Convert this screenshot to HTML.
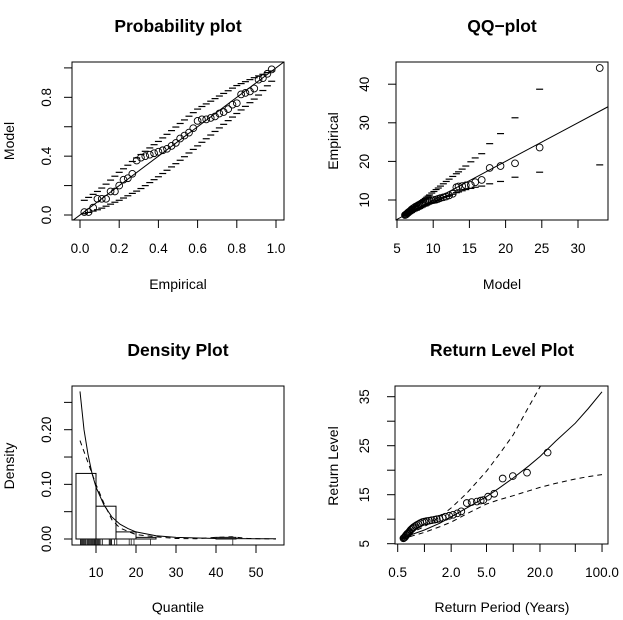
<!DOCTYPE html>
<html><head><meta charset="utf-8"><style>
body{margin:0;background:#fff}
svg{display:block;font-family:"Liberation Sans",Arial,sans-serif}
.t{font-weight:bold;font-size:17.5px;text-anchor:middle}
.tl{font-size:13.5px;text-anchor:middle}
.al{font-size:14px;text-anchor:middle}
</style></head><body>
<svg id="s" width="623" height="620" viewBox="0 0 623 620"></svg>
<script>
// ---- data ----
const ppEmp=[0.022,0.044,0.067,0.089,0.111,0.133,0.156,0.178,0.2,0.222,0.244,0.267,0.289,0.311,0.333,0.356,0.378,0.4,0.422,0.444,0.467,0.489,0.511,0.533,0.556,0.578,0.6,0.622,0.644,0.667,0.689,0.711,0.733,0.756,0.778,0.8,0.822,0.844,0.867,0.889,0.911,0.933,0.956,0.978];
const ppModel=[0.02,0.02,0.05,0.11,0.11,0.11,0.16,0.16,0.20,0.24,0.25,0.28,0.37,0.39,0.40,0.41,0.42,0.43,0.44,0.45,0.47,0.49,0.52,0.54,0.56,0.59,0.64,0.65,0.65,0.66,0.67,0.69,0.70,0.72,0.75,0.76,0.82,0.83,0.84,0.86,0.92,0.93,0.96,0.99];
const ppBandX=[0,0.1,0.2,0.3,0.4,0.5,0.6,0.7,0.8,0.9,1.0];
const ppUpper=[0.08,0.17,0.29,0.40,0.50,0.61,0.72,0.80,0.88,0.94,0.99];
const ppLower=[0.0,0.04,0.10,0.17,0.26,0.36,0.47,0.58,0.69,0.80,0.94];
const qqModel=[6.1,6.2,6.3,6.4,6.5,6.6,6.7,6.8,6.9,7.0,7.2,7.4,7.5,7.7,7.9,8.1,8.3,8.5,8.7,8.9,9.1,9.3,9.5,9.8,10.1,10.4,10.7,11.0,11.4,11.8,12.2,12.7,13.2,13.5,14.0,14.5,15.2,15.8,16.7,17.8,19.3,21.3,24.7,33.0];
const empirical=[6.1,6.2,6.3,6.5,6.7,6.8,7.0,7.1,7.3,7.5,7.8,8.0,8.2,8.4,8.6,8.8,9.0,9.2,9.4,9.5,9.6,9.7,9.8,9.9,10.0,10.1,10.3,10.5,10.7,10.9,11.2,11.6,13.3,13.5,13.6,13.8,13.9,14.6,15.2,18.3,18.8,19.5,23.6,44.2];
const qqUpper=[6.3,6.4,6.6,6.7,6.9,7.0,7.2,7.3,7.5,7.6,7.9,8.2,8.3,8.6,8.9,9.2,9.5,9.8,10.1,10.4,10.7,11.0,11.3,11.8,12.2,12.7,13.1,13.6,14.2,14.8,15.4,16.1,16.8,17.3,18.0,18.8,19.9,20.9,22.0,24.6,27.2,31.3,38.7,60];
const qqLower=[5.9,6.0,6.1,6.2,6.3,6.4,6.5,6.6,6.7,6.8,7.0,7.2,7.3,7.4,7.6,7.8,8.0,8.2,8.4,8.5,8.7,8.9,9.1,9.3,9.5,9.8,10.0,10.3,10.6,10.9,11.2,11.5,11.9,12.1,12.4,12.7,13.0,13.3,13.6,14.2,14.8,15.9,17.2,19.1];
const histBreaks=[5,10,15,20,25,30,35,40,45];
const histDensity=[0.12,0.06,0.013,0.003,0,0,0,0.003];
const densX=[6,7,8,9,10,12,14,16,18,20,25,30,40,55];
const densModel=[0.27,0.2,0.155,0.12,0.095,0.062,0.04,0.027,0.019,0.013,0.006,0.003,0.001,0.0003];
const kdeX=[6,8,10,12,14,16,20,25,30,35,40,44,48,55];
const kdeY=[0.18,0.14,0.10,0.065,0.035,0.02,0.008,0.004,0.001,0.0005,0.003,0.004,0.001,0];
const rlPeriod=[0.58,0.59,0.60,0.61,0.62,0.63,0.64,0.65,0.67,0.68,0.70,0.72,0.74,0.76,0.79,0.82,0.86,0.90,0.95,1.0,1.06,1.13,1.21,1.3,1.38,1.48,1.6,1.73,1.9,2.1,2.35,2.6,3.0,3.4,3.9,4.3,4.6,5.2,6.1,7.6,9.9,14.3,24.4,70];
const rlX=[0.55,0.7,1,1.5,2,3,5,7,10,15,20,30,50,70,100];
const rlFit=[6.0,6.8,7.8,9.2,10.5,12.3,14.6,16.4,18.4,20.9,22.8,25.9,29.6,32.6,36.0];
const rlUp=[6.1,7.2,8.5,10.5,12.3,15.3,19.8,23.3,27.2,33,37,45,55,65,80];
const rlLo=[5.9,6.5,7.3,8.5,9.4,11.1,13.1,14.0,14.8,15.8,16.5,17.3,18.2,18.7,19.1];
const rlTicks=[0.5,1,2,5,10,20,50,100];
const rlTickLabels=["0.5","","2.0","5.0","","20.0","","100.0"];

const NS="http://www.w3.org/2000/svg";
const svg=document.getElementById('s');
function mk(tag,attrs,parent){const e=document.createElementNS(NS,tag);for(const k in attrs)e.setAttribute(k,attrs[k]);(parent||svg).appendChild(e);return e;}
function interp(xs,ys,x){for(let i=0;i<xs.length-1;i++){if(x<=xs[i+1]){const t=(x-xs[i])/(xs[i+1]-xs[i]);return ys[i]+t*(ys[i+1]-ys[i]);}}return ys[ys.length-1];}
function panel(name,box){const g=mk('g',{});
 const cp=mk('clipPath',{id:'c'+name},g);mk('rect',{x:box[0],y:box[1],width:box[2]-box[0],height:box[3]-box[1]},cp);
 const pg=mk('g',{'clip-path':'url(#c'+name+')'},g);return [g,pg];}
function frame(g,box){const r=mk('rect',{x:box[0],y:box[1],width:box[2]-box[0],height:box[3]-box[1],fill:'none',stroke:'#000','stroke-width':1},g);}
function text(g,x,y,s,cls,rot,name){const t=mk('text',{x:x,y:y,class:cls},g);if(rot)t.setAttribute('transform','rotate(-90 '+x+' '+y+')');t.textContent=s;return t;}
function xaxis(g,ticks,labels,sx,yb,ly){for(let i=0;i<ticks.length;i++){const x=sx(ticks[i]);const l=mk('line',{x1:x,x2:x,y1:yb,y2:yb+8,stroke:'#000'},g);if(labels[i])text(g,x,ly,labels[i],'tl',false,'x-tick-label');}}
function yaxis(g,ticks,labels,sy,xb,lx){for(let i=0;i<ticks.length;i++){const y=sy(ticks[i]);const l=mk('line',{x1:xb-8,x2:xb,y1:y,y2:y,stroke:'#000'},g);if(labels[i])text(g,lx,y,labels[i],'tl',true,'y-tick-label');}}
function circ(g,x,y){const c=mk('circle',{cx:x,cy:y,r:3.4,fill:'none',stroke:'#000','stroke-width':0.9},g);}
function dash(g,x,y){const l=mk('line',{x1:x-3.5,x2:x+3.5,y1:y,y2:y,stroke:'#000','stroke-width':1.2},g);}
function poly(g,pts,dashed,name){const p=mk('polyline',{points:pts.map(p=>p[0].toFixed(1)+','+p[1].toFixed(1)).join(' '),fill:'none',stroke:'#000','stroke-width':1,'stroke-dasharray':dashed?'5,4':'none'},g);}

// ---- Probability plot ----
(function(){const box=[72,62,284,220];const sx=v=>80+v*196,sy=v=>215-v*147.1;const [g,pg]=panel('probability-plot',box);
 poly(pg,[[box[0],sy((box[0]-80)/196)],[box[2],sy((box[2]-80)/196)]],false,'reference-line');
 for(let i=0;i<ppEmp.length;i++){dash(pg,sx(ppEmp[i]),sy(interp(ppBandX,ppUpper,ppEmp[i])));dash(pg,sx(ppEmp[i]),sy(interp(ppBandX,ppLower,ppEmp[i])));}
 for(let i=0;i<ppEmp.length;i++)circ(pg,sx(ppEmp[i]),sy(ppModel[i]));
 frame(g,box);
 xaxis(g,[0,0.2,0.4,0.6,0.8,1.0],["0.0","0.2","0.4","0.6","0.8","1.0"],sx,220,253);
 yaxis(g,[0,0.2,0.4,0.6,0.8,1.0],["0.0","","0.4","","0.8",""],sy,72,51);
 text(g,178,32,'Probability plot','t',false,'chart-title');text(g,178,289,'Empirical','al',false,'x-axis-title');text(g,14,141,'Model','al',true,'y-axis-title');})();

// ---- QQ plot ----
(function(){const box=[396,62,608,220];const sx=v=>397+(v-5)*7.24,sy=v=>200-(v-10)*3.86;const [g,pg]=panel('qq-plot',box);
 poly(pg,[[sx(4),sy(4)],[sx(36),sy(36)]],false,'reference-line');
 for(let i=0;i<qqModel.length;i++){dash(pg,sx(qqModel[i]),sy(qqUpper[i]));dash(pg,sx(qqModel[i]),sy(qqLower[i]));}
 for(let i=0;i<qqModel.length;i++)circ(pg,sx(qqModel[i]),sy(empirical[i]));
 frame(g,box);
 xaxis(g,[5,10,15,20,25,30],["5","10","15","20","25","30"],sx,220,253);
 yaxis(g,[10,20,30,40],["10","20","30","40"],sy,396,369);
 text(g,502,32,'QQ\u2212plot','t',false,'chart-title');text(g,502,289,'Model','al',false,'x-axis-title');text(g,338,141,'Empirical','al',true,'y-axis-title');})();

// ---- Density plot ----
(function(){const box=[72,386,284,545];const sx=v=>76+(v-5)*4,sy=v=>539-v*546.5;const [g,pg]=panel('density-plot',box);
 for(let i=0;i<histDensity.length;i++){const r=mk('rect',{x:sx(histBreaks[i]),y:sy(histDensity[i]),width:sx(histBreaks[i+1])-sx(histBreaks[i]),height:sy(0)-sy(histDensity[i]),fill:'none',stroke:'#000','stroke-width':1},pg);}
 poly(pg,densX.map((x,i)=>[sx(x),sy(densModel[i])]),false,'model-density-curve');
 poly(pg,kdeX.map((x,i)=>[sx(x),sy(kdeY[i])]),true,'empirical-density-curve');
 for(const v of empirical){const l=mk('line',{x1:sx(v),x2:sx(v),y1:539,y2:545,stroke:'#222','stroke-width':0.8},pg);}
 frame(g,box);
 xaxis(g,[10,20,30,40,50],["10","20","30","40","50"],sx,545,577);
 yaxis(g,[0,0.05,0.1,0.15,0.2,0.25],["0.00","","0.10","","0.20",""],sy,72,51);
 text(g,178,356,'Density Plot','t',false,'chart-title');text(g,178,612,'Quantile','al',false,'x-axis-title');text(g,14,466,'Density','al',true,'y-axis-title');})();

// ---- Return level plot ----
(function(){const box=[395,386,608,544];const sx=v=>397.7+Math.log10(v/0.5)*88.8,sy=v=>543.7-(v-5)*4.9;const [g,pg]=panel('return-level-plot',box);
 poly(pg,rlX.map((x,i)=>[sx(x),sy(rlFit[i])]),false,'return-level-curve');
 poly(pg,rlX.map((x,i)=>[sx(x),sy(rlUp[i])]),true,'upper-ci-curve');
 poly(pg,rlX.map((x,i)=>[sx(x),sy(rlLo[i])]),true,'lower-ci-curve');
 for(let i=0;i<rlPeriod.length;i++)circ(pg,sx(rlPeriod[i]),sy(empirical[i]));
 frame(g,box);
 xaxis(g,rlTicks,rlTickLabels,sx,544,577);
 yaxis(g,[5,10,15,20,25,30,35],["5","","15","","25","","35"],sy,395,369);
 text(g,502,356,'Return Level Plot','t',false,'chart-title');text(g,502,612,'Return Period (Years)','al',false,'x-axis-title');text(g,338,466,'Return Level','al',true,'y-axis-title');})();
</script>
</body></html>
